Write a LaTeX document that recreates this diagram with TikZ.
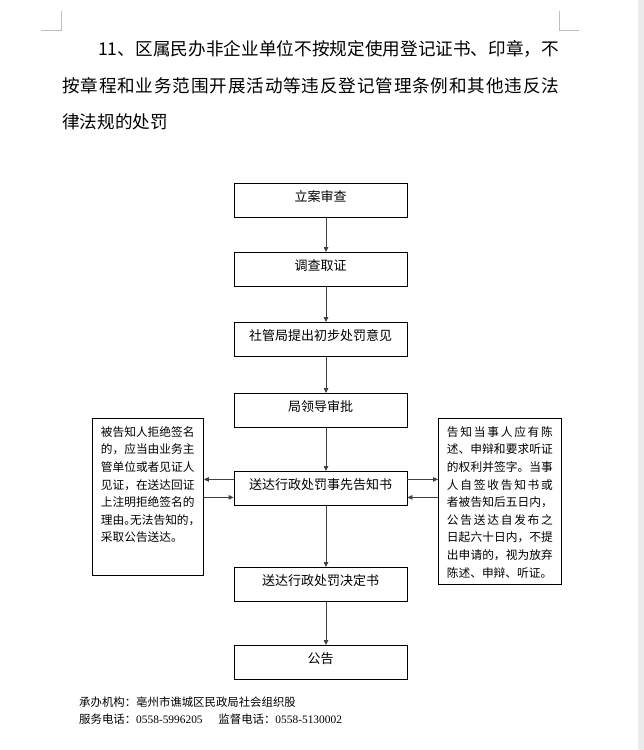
\documentclass[tikz,border=0pt]{standalone}
\usepackage{fontspec}
\setmainfont{Liberation Serif}
\newfontfamily\cjk{Noto Sans CJK SC}
\usetikzlibrary{arrows.meta}

\begin{document}
\begin{tikzpicture}[x=1pt, y=-1pt,
		flowbox/.style={draw=black, line width=0.8pt, minimum width=173pt, inner xsep=0pt, inner ysep=0pt,
			text height=18pt, text depth=16pt, anchor=north, font=\cjk\fontsize{13pt}{15pt}\selectfont},
		sidebox/.style={draw=black, line width=0.8pt, inner xsep=0pt, inner ysep=8pt, anchor=north west,
			font=\cjk\fontsize{11.7pt}{17.6pt}\selectfont},
		arr/.style={draw=arrgray, line width=0.8pt, -{Triangle[width=4.5pt, length=5pt]}},
		cornermark/.style={draw=black!25, line width=0.6pt}]
		\colorlet{arrgray}{black!75}
		\useasboundingbox (0,0) rectangle (644,750);
		\fill[white] (0,0) rectangle (644,750);
		\fill[black!8] (637.5,0) rectangle (644,750);
		\draw[cornermark] (61.7,11) -- (61.7,30) -- (41,30);
		\draw[cornermark] (559.3,11) -- (559.3,30) -- (579.3,30);
		% title
		\node (title) at (62,55.7) [anchor=base west, inner sep=0pt, font=\cjk\fontsize{17.6pt}{36.5pt}\selectfont] {\parbox[t]{497pt}{\XeTeXlinebreaklocale "zh"\XeTeXlinebreakskip=0pt plus 3pt \hspace*{36pt}11、区属民办非企业单位不按规定使用登记证书、印章，不\linebreak 按章程和业务范围开展活动等违反登记管理条例和其他违反法\linebreak 律法规的处罚}};
		% main steps
		\node (b1) at (320.5,183) [flowbox] {立案审查};
		\node (b2) at (320.5,252) [flowbox] {调查取证};
		\node (b3) at (320.5,322) [flowbox] {社管局提出初步处罚意见};
		\node (b4) at (320.5,393) [flowbox] {局领导审批};
		\node (b5) at (320.5,471) [flowbox] {送达行政处罚事先告知书};
		\node (b6) at (320.5,567) [flowbox] {送达行政处罚决定书};
		\node (b7) at (320.5,645) [flowbox] {公告};
		% side notes
		\node (lbox) at (92,418) [sidebox, minimum width=111pt] {\parbox[c][141pt][t]{94pt}{\XeTeXlinebreaklocale ""\raggedright 被告知人拒绝签名\\的，应当由业务主\\管单位或者见证人\\见证，在送达回证\\上注明拒绝签名的\\理由\makebox[5.85pt][l]{。}无法告知的，\\采取公告送达。}};
		\node (rbox) at (438,418) [sidebox, minimum width=123pt] {\parbox[c][150pt][t]{106pt}{\XeTeXlinebreaklocale "zh"\XeTeXlinebreakskip=0pt plus 4pt 告知当事人应有陈\linebreak 述、申辩和要求听证\linebreak 的权利并签字。当事\linebreak 人自签收告知书或\linebreak 者被告知后五日内，\linebreak 公告送达自发布之\linebreak 日起六十日内，不提\linebreak 出申请的，视为放弃\linebreak 陈述、申辩、听证。}};
		% footer
		\node (org) at (79,706.3) [anchor=base west, inner sep=0pt, font=\cjk\fontsize{11.4pt}{17pt}\selectfont] {承办机构：亳州市谯城区民政局社会组织股};
		\node (tel) at (79,723.3) [anchor=base west, inner sep=0pt, font=\cjk\fontsize{11.4pt}{17pt}\selectfont] {服务电话：{\rmfamily 0558-5996205}\hspace{15.8pt}监督电话：{\rmfamily 0558-5130002}};
		% connectors
		\foreach \a/\b in {b1/b2, b2/b3, b3/b4, b4/b5, b5/b6, b6/b7}
			\draw[arr] ([xshift=5.5pt]\a.south) -- ([xshift=5.5pt]\b.north);
		\coordinate (lout) at ([yshift=9pt]b5.west);
		\coordinate (lin) at ([yshift=-9pt]b5.west);
		\coordinate (rout) at ([yshift=9pt]b5.east);
		\coordinate (rin) at ([yshift=-9pt]b5.east);
		\draw[arr] (lout) -- (lout -| lbox.east);
		\draw[arr] (lin -| lbox.east) -- (lin);
		\draw[arr] (rout) -- (rout -| rbox.west);
		\draw[arr] (rin -| rbox.west) -- (rin);
	\end{tikzpicture}
\end{document}
